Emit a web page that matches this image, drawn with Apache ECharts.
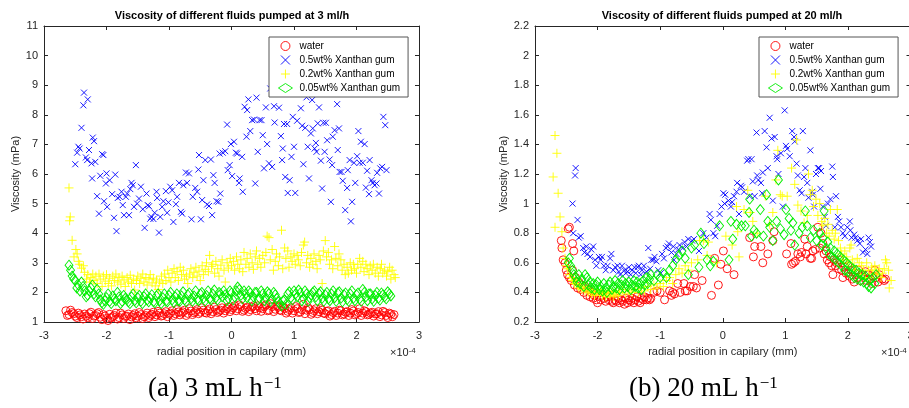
<!DOCTYPE html>
<html><head><meta charset="utf-8">
<script src="https://cdn.jsdelivr.net/npm/echarts@6/dist/echarts.min.js"></script>
<style>html,body{margin:0;padding:0;background:#fff}#c{width:909px;height:408px}</style>
</head><body><div id="c"></div>
<script>
// x values in units of 1e-4 mm, viscosity in mPa
const seriesNames = ['water', '0.5wt% Xanthan gum', '0.2wt% Xanthan gum', '0.05wt% Xanthan gum'];

const leftWater = [[-2.65,1.38],[-2.60,1.25],[-2.55,1.32],[-2.50,1.20],[-2.45,1.30],[-2.40,1.18],[-2.35,1.27],[-2.30,1.15],[-2.25,1.33],[-2.20,1.20],[-2.15,1.28],[-2.10,1.16],[-2.05,1.25],[-2.00,1.12],[-1.95,1.26],[-1.90,1.18],[-1.85,1.30],[-1.80,1.15],[-1.75,1.24],[-1.70,1.19],[-1.65,1.27],[-1.60,1.17],[-1.55,1.28],[-1.50,1.20],[-1.45,1.25],[-1.40,1.18],[-1.35,1.30],[-1.30,1.22],[-1.25,1.33],[-1.20,1.24],[-1.15,1.30],[-1.10,1.22],[-1.05,1.35],[-1.00,1.27],[-0.95,1.38],[-0.90,1.28],[-0.85,1.34],[-0.80,1.30],[-0.75,1.40],[-0.70,1.29],[-0.65,1.37],[-0.60,1.31],[-0.55,1.42],[-0.50,1.33],[-0.45,1.40],[-0.40,1.30],[-0.35,1.44],[-0.30,1.35],[-0.25,1.42],[-0.20,1.36],[-0.15,1.48],[-0.10,1.38],[-0.05,1.50],[0.00,1.42],[0.05,1.55],[0.10,1.45],[0.15,1.52],[0.20,1.40],[0.25,1.50],[0.30,1.42],[0.35,1.55],[0.40,1.38],[0.45,1.48],[0.50,1.45],[0.55,1.58],[0.60,1.40],[0.65,1.52],[0.70,1.43],[0.75,1.50],[0.80,1.38],[0.85,1.46],[0.90,1.36],[0.95,1.48],[1.00,1.38],[1.05,1.45],[1.10,1.34],[1.15,1.60],[1.20,1.40],[1.25,1.42],[1.30,1.32],[1.35,1.45],[1.40,1.35],[1.45,1.40],[1.50,1.28],[1.55,1.38],[1.60,1.25],[1.65,1.36],[1.70,1.30],[1.75,1.38],[1.80,1.27],[1.85,1.35],[1.90,1.30],[1.95,1.37],[2.00,1.28],[2.05,1.45],[2.10,1.30],[2.15,1.35],[2.20,1.26],[2.25,1.33],[2.30,1.27],[2.35,1.35],[2.40,1.24],[2.45,1.32],[2.50,1.15],[2.55,1.27],[2.60,1.25],
[-2.625,1.22],[-2.575,1.40],[-2.525,1.28],[-2.475,1.15],[-2.425,1.24],[-2.375,1.10],[-2.325,1.20],[-2.275,1.28],[-2.225,1.12],[-2.175,1.22],[-2.125,1.32],[-2.075,1.08],[-2.025,1.20],[-1.975,1.05],[-1.925,1.14],[-1.875,1.22],[-1.825,1.10],[-1.775,1.30],[-1.725,1.12],[-1.675,1.20],[-1.625,1.08],[-1.575,1.22],[-1.525,1.14],[-1.475,1.32],[-1.425,1.12],[-1.375,1.22],[-1.325,1.15],[-1.275,1.26],[-1.225,1.18],[-1.175,1.36],[-1.125,1.20],[-1.075,1.28],[-1.025,1.18],[-0.975,1.30],[-0.925,1.22],[-0.875,1.42],[-0.825,1.24],[-0.775,1.34],[-0.725,1.22],[-0.675,1.45],[-0.625,1.25],[-0.575,1.35],[-0.525,1.28],[-0.475,1.48],[-0.425,1.32],[-0.375,1.38],[-0.325,1.28],[-0.275,1.50],[-0.225,1.32],[-0.175,1.40],[-0.125,1.30],[-0.075,1.45],[-0.025,1.35],[0.025,1.48],[0.075,1.38],[0.125,1.58],[0.175,1.36],[0.225,1.46],[0.275,1.35],[0.325,1.50],[0.375,1.45],[0.425,1.55],[0.475,1.36],[0.525,1.52],[0.575,1.38],[0.625,1.62],[0.675,1.35],[0.725,1.55],[0.775,1.40],[0.825,1.52],[0.875,1.30],[0.925,1.42],[0.975,1.30],[1.025,1.52],[1.075,1.32],[1.125,1.42],[1.175,1.28],[1.225,1.48],[1.275,1.26],[1.325,1.38],[1.375,1.28],[1.425,1.45],[1.475,1.30],[1.525,1.36],[1.575,1.20],[1.625,1.32],[1.675,1.22],[1.725,1.40],[1.775,1.24],[1.825,1.33],[1.875,1.22],[1.925,1.42],[1.975,1.24],[2.025,1.32],[2.075,1.22],[2.125,1.38],[2.175,1.24],[2.225,1.30],[2.275,1.20],[2.325,1.28],[2.375,1.18],[2.425,1.36],[2.475,1.22],[2.525,1.30],[2.575,1.18]];

const leftXg05 = [[-2.36,8.75],[-2.37,8.32],[-2.30,8.52],[-2.40,7.56],[-2.50,6.33],[-2.47,6.72],[-2.45,6.92],[-2.43,6.86],[-2.33,6.56],[-2.31,6.47],[-2.28,6.81],[-2.22,7.23],[-2.20,7.11],[-2.24,6.36],[-2.18,6.41],[-2.23,5.85],[-2.15,5.25],[-2.12,4.66],[-2.10,5.94],[-2.07,6.67],[-2.05,6.64],[-2.04,5.08],[-2.00,6.02],[-1.99,4.89],[-2.01,5.68],[-1.95,5.79],[-1.91,5.32],[-1.88,4.52],[-1.86,5.98],[-1.84,4.07],[-1.82,5.19],[-1.79,5.23],[-1.76,5.40],[-1.74,4.95],[-1.72,4.61],[-1.69,5.23],[-1.67,5.34],[-1.64,4.61],[-1.62,5.49],[-1.60,5.70],[-1.58,5.62],[-1.56,4.89],[-1.53,6.30],[-1.51,5.00],[-1.48,5.17],[-1.45,5.57],[-1.42,4.81],[-1.39,4.18],[-1.36,5.34],[-1.34,4.95],[-1.32,4.91],[-1.30,4.49],[-1.28,4.55],[-1.25,4.48],[-1.23,4.69],[-1.20,5.40],[-1.19,5.19],[-1.16,4.02],[-1.14,4.55],[-1.11,4.89],[-1.09,5.08],[-1.05,5.42],[-1.03,4.69],[-1.01,5.04],[-0.98,5.57],[-0.95,5.45],[-0.93,4.38],[-0.89,4.98],[-0.87,5.23],[-0.84,5.70],[-0.81,4.72],[-0.79,4.66],[-0.77,5.62],[-0.73,6.05],[-0.71,5.70],[-0.68,6.02],[-0.64,4.47],[-0.62,5.23],[-0.58,5.53],[-0.55,5.40],[-0.53,6.15],[-0.52,6.64],[-0.49,4.47],[-0.47,5.12],[-0.45,5.79],[-0.42,6.47],[-0.39,4.97],[-0.36,4.92],[-0.33,6.49],[-0.31,4.61],[-0.29,5.96],[-0.27,5.70],[-0.24,5.08],[-0.21,5.06],[-0.19,6.69],[-0.18,5.34],[-0.14,6.72],[-0.10,6.77],[-0.07,7.67],[-0.06,6.13],[-0.03,6.30],[-0.01,7.01],[0.01,5.93],[0.04,7.09],[0.07,6.72],[0.09,6.69],[0.12,5.70],[0.13,5.85],[0.17,6.58],[0.18,5.40],[0.21,8.27],[0.24,7.26],[0.25,8.16],[0.27,8.52],[0.30,7.45],[0.33,7.82],[0.36,7.84],[0.38,5.68],[0.40,8.58],[0.42,6.75],[0.45,7.82],[0.48,7.82],[0.50,7.31],[0.52,6.19],[0.55,8.25],[0.57,7.01],[0.60,6.36],[0.62,8.89],[0.65,6.24],[0.68,8.29],[0.69,7.74],[0.76,8.24],[0.79,7.28],[0.81,6.47],[0.82,6.86],[0.84,7.69],[0.86,5.90],[0.89,7.69],[0.90,5.36],[0.93,5.79],[0.96,6.58],[0.98,7.93],[1.00,6.92],[1.02,5.36],[1.05,7.80],[1.08,8.84],[1.11,8.22],[1.13,7.63],[1.15,6.33],[1.18,7.56],[1.20,8.59],[1.22,6.92],[1.24,5.85],[1.27,7.37],[1.29,8.50],[1.30,7.54],[1.33,6.86],[1.35,7.05],[1.36,6.75],[1.38,7.71],[1.40,8.25],[1.43,6.45],[1.45,5.51],[1.47,7.73],[1.49,6.75],[1.51,7.73],[1.53,7.14],[1.57,6.49],[1.59,5.06],[1.61,6.30],[1.62,7.26],[1.65,7.48],[1.69,8.36],[1.70,6.81],[1.72,7.54],[1.73,6.07],[1.76,6.07],[1.78,5.77],[1.82,4.78],[1.85,5.53],[1.86,6.13],[1.89,6.47],[1.91,4.40],[1.93,5.06],[1.96,6.38],[1.98,5.70],[2.01,6.60],[2.03,7.45],[2.05,6.38],[2.07,7.09],[2.10,6.38],[2.13,7.01],[2.15,5.54],[2.17,6.11],[2.20,5.32],[2.21,6.47],[2.24,5.79],[2.26,5.70],[2.29,5.62],[2.32,5.68],[2.33,6.04],[2.36,5.34],[2.38,6.19],[2.41,6.24],[2.43,7.93],[2.46,7.65],[2.48,6.13]];

const leftXg02 = [[-2.60,5.53],[-2.58,4.55],[-2.59,4.42],[-2.55,3.76],[-2.52,3.20],[-2.49,3.45],[-2.47,3.30],[-2.45,3.05],[-2.43,2.95],[-2.40,2.82],[-2.37,2.90],[-2.35,2.68],[-2.32,2.45],[-2.30,2.60],[-2.27,2.35],[-2.25,2.50],[-2.22,2.62],[-2.20,2.40],[-2.17,2.55],[-2.15,2.30],[-2.12,2.62],[-2.10,2.45],[-2.07,2.20],[-2.05,2.55],[-2.02,2.38],[-2.00,2.60],[-1.97,2.30],[-1.95,2.48],[-1.92,2.22],[-1.90,2.55],[-1.87,2.40],[-1.85,2.62],[-1.82,2.35],[-1.80,2.50],[-1.77,2.28],[-1.75,2.55],[-1.72,2.42],[-1.70,2.20],[-1.67,2.50],[-1.65,2.35],[-1.62,2.58],[-1.60,2.30],[-1.57,2.45],[-1.55,2.08],[-1.52,2.40],[-1.50,2.55],[-1.47,2.30],[-1.45,2.48],[-1.42,2.62],[-1.40,2.35],[-1.37,2.50],[-1.35,2.25],[-1.32,2.45],[-1.30,2.60],[-1.27,2.32],[-1.25,2.48],[-1.22,2.22],[-1.20,2.42],[-1.17,2.10],[-1.15,2.35],[-1.12,2.55],[-1.10,2.30],[-1.07,2.62],[-1.05,2.40],[-1.02,2.75],[-1.00,2.50],[-0.97,2.35],[-0.95,2.65],[-0.92,2.80],[-0.90,2.50],[-0.87,2.70],[-0.85,2.40],[-0.82,2.85],[-0.80,2.60],[-0.77,2.75],[-0.75,2.45],[-0.72,2.55],[-0.70,2.30],[-0.67,2.62],[-0.65,2.80],[-0.62,2.50],[-0.60,2.68],[-0.57,2.85],[-0.55,2.55],[-0.52,2.72],[-0.50,2.40],[-0.47,2.90],[-0.45,2.60],[-0.42,2.78],[-0.40,3.00],[-0.37,2.70],[-0.35,3.25],[-0.32,2.88],[-0.30,2.95],[-0.27,2.65],[-0.25,3.05],[-0.22,2.80],[-0.20,2.55],[-0.17,2.92],[-0.15,3.10],[-0.12,2.75],[-0.10,2.35],[-0.07,3.00],[-0.05,2.82],[-0.02,3.15],[0.00,2.90],[0.03,3.05],[0.05,2.75],[0.08,3.20],[0.10,2.95],[0.13,2.80],[0.15,3.10],[0.18,2.70],[0.20,3.35],[0.23,2.95],[0.25,3.15],[0.28,2.85],[0.30,3.30],[0.33,3.00],[0.35,2.78],[0.38,3.20],[0.40,3.40],[0.42,2.95],[0.45,3.15],[0.47,2.85],[0.50,3.25],[0.53,3.00],[0.55,3.35],[0.57,3.90],[0.60,3.85],[0.62,3.10],[0.65,3.45],[0.67,2.75],[0.70,3.05],[0.72,3.30],[0.75,2.90],[0.77,3.20],[0.80,4.10],[0.82,2.80],[0.85,3.50],[0.87,3.15],[0.90,3.40],[0.92,2.85],[0.95,3.20],[0.97,3.05],[1.00,3.30],[1.02,2.95],[1.05,3.25],[1.07,3.10],[1.10,2.90],[1.12,3.35],[1.15,3.60],[1.17,3.70],[1.20,3.00],[1.22,3.25],[1.25,2.85],[1.27,3.15],[1.30,2.95],[1.32,3.30],[1.35,3.05],[1.37,2.80],[1.40,3.25],[1.42,3.10],[1.45,2.30],[1.47,3.40],[1.50,3.75],[1.52,3.20],[1.55,3.35],[1.57,2.95],[1.60,3.10],[1.62,2.80],[1.65,3.55],[1.67,3.15],[1.70,2.90],[1.72,3.30],[1.75,3.10],[1.77,2.75],[1.80,2.95],[1.82,2.60],[1.85,2.85],[1.87,2.65],[1.90,3.00],[1.92,2.75],[1.95,2.95],[1.97,2.80],[2.00,2.65],[2.02,2.95],[2.05,3.15],[2.07,2.85],[2.10,3.05],[2.12,2.70],[2.15,2.95],[2.17,2.80],[2.20,2.60],[2.22,2.90],[2.25,2.75],[2.27,2.95],[2.30,2.65],[2.33,2.85],[2.35,2.55],[2.38,2.80],[2.40,2.95],[2.42,2.65],[2.45,2.75],[2.48,2.55],[2.50,2.70],[2.53,2.85],[2.55,2.45],[2.57,2.75],[2.60,2.60],[2.62,2.50]];

const leftXg005 = [[-2.60,2.92],[-2.55,2.55],[-2.50,2.40],[-2.45,2.25],[-2.40,2.35],[-2.35,2.05],[-2.30,1.90],[-2.25,2.15],[-2.20,1.95],[-2.15,2.10],[-2.10,1.75],[-2.05,1.60],[-2.00,1.82],[-1.95,1.70],[-1.90,1.88],[-1.85,1.72],[-1.80,1.85],[-1.75,1.70],[-1.70,1.80],[-1.65,1.68],[-1.60,1.85],[-1.55,1.72],[-1.50,1.82],[-1.45,1.70],[-1.40,1.86],[-1.35,1.74],[-1.30,1.80],[-1.25,1.68],[-1.20,1.88],[-1.15,1.72],[-1.10,1.82],[-1.05,1.70],[-1.00,1.90],[-0.95,1.75],[-0.90,1.85],[-0.85,1.72],[-0.80,1.88],[-0.75,1.75],[-0.70,1.92],[-0.65,1.78],[-0.60,1.88],[-0.55,1.76],[-0.50,1.95],[-0.45,1.80],[-0.40,1.90],[-0.35,1.78],[-0.30,1.95],[-0.25,1.82],[-0.20,2.00],[-0.15,1.85],[-0.10,1.92],[-0.05,1.80],[0.00,1.98],[0.05,1.85],[0.10,2.18],[0.15,1.90],[0.20,2.05],[0.25,1.82],[0.30,1.98],[0.35,1.85],[0.40,2.00],[0.45,1.80],[0.50,1.95],[0.55,1.82],[0.60,1.96],[0.65,1.78],[0.70,1.92],[0.75,1.68],[0.80,1.55],[0.85,1.75],[0.90,1.95],[0.95,1.82],[1.00,2.05],[1.05,1.85],[1.10,1.98],[1.15,1.80],[1.20,1.95],[1.25,1.82],[1.30,2.00],[1.35,1.85],[1.40,1.96],[1.45,1.80],[1.50,1.92],[1.55,1.78],[1.60,1.95],[1.65,1.82],[1.70,1.98],[1.75,1.80],[1.80,1.92],[1.85,1.76],[1.90,1.95],[1.95,1.80],[2.00,1.92],[2.05,1.78],[2.10,2.10],[2.15,1.85],[2.20,1.95],[2.25,1.78],[2.30,1.90],[2.35,1.80],[2.40,1.98],[2.45,1.85],[2.50,2.02],[2.55,1.88],
[-2.575,2.75],[-2.525,2.45],[-2.475,2.15],[-2.425,2.05],[-2.375,2.20],[-2.325,1.85],[-2.275,2.05],[-2.225,2.25],[-2.175,1.85],[-2.125,1.95],[-2.075,1.65],[-2.025,1.72],[-1.975,1.95],[-1.925,1.62],[-1.875,1.78],[-1.825,2.00],[-1.775,1.62],[-1.725,1.90],[-1.675,1.75],[-1.625,1.62],[-1.575,1.95],[-1.525,1.65],[-1.475,1.90],[-1.425,1.62],[-1.375,1.95],[-1.325,1.68],[-1.275,1.92],[-1.225,1.65],[-1.175,1.95],[-1.125,1.62],[-1.075,1.95],[-1.025,1.68],[-0.975,2.00],[-0.925,1.66],[-0.875,1.95],[-0.825,1.70],[-0.775,2.02],[-0.725,1.68],[-0.675,1.98],[-0.625,1.70],[-0.575,2.05],[-0.525,1.72],[-0.475,2.00],[-0.425,1.70],[-0.375,2.05],[-0.325,1.75],[-0.275,2.08],[-0.225,1.74],[-0.175,1.95],[-0.125,2.05],[-0.075,1.72],[-0.025,2.05],[0.025,1.75],[0.075,2.05],[0.125,2.10],[0.175,1.78],[0.225,1.95],[0.275,2.05],[0.325,1.72],[0.375,2.00],[0.425,1.75],[0.475,2.05],[0.525,1.72],[0.575,2.02],[0.625,1.70],[0.675,2.00],[0.725,1.80],[0.775,1.62],[0.825,1.72],[0.875,1.60],[0.925,2.02],[0.975,1.75],[1.025,1.95],[1.075,2.08],[1.125,1.72],[1.175,2.05],[1.225,1.70],[1.275,1.92],[1.325,2.05],[1.375,1.72],[1.425,2.02],[1.475,1.70],[1.525,2.00],[1.575,1.72],[1.625,2.05],[1.675,1.70],[1.725,2.02],[1.775,1.68],[1.825,1.98],[1.875,1.70],[1.925,2.05],[1.975,1.72],[2.025,1.98],[2.075,1.70],[2.125,2.00],[2.175,1.72],[2.225,1.95],[2.275,1.70],[2.325,2.00],[2.375,1.74],[2.425,1.92],[2.475,1.78],[2.525,1.95]];

const rightWater = [[-2.58,0.75],[-2.57,0.70],[-2.55,0.62],[-2.52,0.60],[-2.47,0.83],[-2.45,0.84],[-2.40,0.73],[-2.38,0.68],[-2.50,0.55],[-2.48,0.52],[-2.45,0.50],[-2.42,0.48],[-2.40,0.55],[-2.37,0.45],[-2.35,0.50],[-2.32,0.43],[-2.30,0.47],[-2.27,0.42],[-2.25,0.45],[-2.22,0.40],[-2.20,0.44],[-2.17,0.38],[-2.15,0.42],[-2.12,0.37],[-2.10,0.40],[-2.07,0.36],[-2.05,0.38],[-2.02,0.35],[-2.00,0.33],[-1.97,0.37],[-1.95,0.35],[-1.92,0.38],[-1.90,0.36],[-1.87,0.34],[-1.85,0.37],[-1.82,0.35],[-1.80,0.38],[-1.77,0.34],[-1.75,0.33],[-1.72,0.35],[-1.70,0.34],[-1.67,0.36],[-1.65,0.33],[-1.62,0.35],[-1.60,0.34],[-1.57,0.32],[-1.55,0.36],[-1.52,0.33],[-1.50,0.35],[-1.47,0.34],[-1.45,0.36],[-1.42,0.33],[-1.40,0.35],[-1.37,0.37],[-1.35,0.34],[-1.32,0.33],[-1.30,0.36],[-1.27,0.35],[-1.25,0.37],[-1.22,0.35],[-1.20,0.36],[-1.17,0.35],[-1.15,0.36],[-1.10,0.40],[-1.05,0.41],[-1.00,0.40],[-0.93,0.35],[-0.85,0.41],[-0.82,0.38],[-0.80,0.40],[-0.77,0.39],[-0.72,0.46],[-0.68,0.40],[-0.62,0.46],[-0.60,0.41],[-0.57,0.41],[-0.52,0.44],[-0.47,0.44],[-0.45,0.52],[-0.42,0.43],[-0.33,0.48],[-0.18,0.38],[-0.13,0.63],[-0.07,0.45],[-0.03,0.59],[0.01,0.68],[0.07,0.56],[0.18,0.52],[0.43,0.77],[0.49,0.64],[0.51,0.71],[0.61,0.71],[0.64,0.60],[0.72,0.66],[0.80,0.75],[0.82,0.81],[1.02,0.66],[1.09,0.73],[1.10,0.59],[1.13,0.60],[1.16,0.61],[1.20,0.66],[1.24,0.64],[1.26,0.67],[1.31,0.76],[1.33,0.66],[1.35,0.71],[1.40,0.63],[1.42,0.63],[1.44,0.68],[1.48,0.69],[1.52,0.84],[1.55,0.70],[1.57,0.80],[1.60,0.73],[1.62,0.66],[1.65,0.68],[1.67,0.62],[1.70,0.60],[1.72,0.64],[1.74,0.58],[1.76,0.52],[1.78,0.62],[1.80,0.58],[1.82,0.60],[1.85,0.56],[1.87,0.62],[1.90,0.55],[1.92,0.50],[1.95,0.57],[1.97,0.53],[2.00,0.58],[2.02,0.51],[2.05,0.55],[2.07,0.49],[2.10,0.47],[2.12,0.53],[2.15,0.50],[2.17,0.55],[2.20,0.48],[2.22,0.52],[2.25,0.50],[2.28,0.54],[2.30,0.48],[2.33,0.52],[2.35,0.49],[2.38,0.46],[2.40,0.51],[2.43,0.55],[2.45,0.50],[2.48,0.47],[2.50,0.52],[2.55,0.49],[2.58,0.48],[2.60,0.49]];

const rightXg05 = [[-2.35,1.24],[-2.36,1.19],[-2.40,1.00],[-2.32,0.89],[-2.39,0.80],[-2.30,0.77],[-2.27,0.78],[-2.23,0.70],[-2.21,0.67],[-2.18,0.71],[-2.16,0.66],[-2.12,0.64],[-2.10,0.69],[-2.07,0.71],[-2.04,0.62],[-2.02,0.58],[-1.98,0.64],[-1.95,0.62],[-1.93,0.64],[-1.90,0.58],[-1.87,0.55],[-1.84,0.58],[-1.80,0.63],[-1.78,0.66],[-1.75,0.55],[-1.72,0.57],[-1.68,0.58],[-1.66,0.54],[-1.64,0.52],[-1.61,0.58],[-1.57,0.55],[-1.55,0.53],[-1.52,0.54],[-1.50,0.57],[-1.47,0.52],[-1.45,0.55],[-1.41,0.57],[-1.39,0.53],[-1.36,0.57],[-1.34,0.58],[-1.31,0.52],[-1.29,0.55],[-1.26,0.58],[-1.22,0.54],[-1.19,0.70],[-1.16,0.56],[-1.14,0.62],[-1.11,0.62],[-1.09,0.64],[-1.06,0.61],[-1.03,0.55],[-0.99,0.53],[-0.97,0.66],[-0.94,0.63],[-0.91,0.70],[-0.88,0.71],[-0.86,0.73],[-0.82,0.67],[-0.79,0.71],[-0.78,0.62],[-0.74,0.66],[-0.71,0.69],[-0.69,0.72],[-0.64,0.70],[-0.61,0.74],[-0.58,0.71],[-0.55,0.76],[-0.49,0.75],[-0.46,0.76],[-0.38,0.68],[-0.31,0.80],[-0.26,0.77],[-0.21,0.93],[-0.19,0.89],[-0.15,0.80],[-0.12,0.78],[-0.09,0.85],[-0.05,0.93],[-0.02,0.98],[0.01,1.07],[0.03,1.00],[0.04,1.06],[0.09,1.02],[0.13,0.98],[0.15,1.01],[0.18,1.05],[0.22,1.08],[0.23,1.14],[0.26,0.93],[0.29,1.12],[0.31,1.11],[0.34,1.08],[0.39,1.29],[0.41,1.30],[0.43,1.05],[0.46,1.30],[0.48,1.15],[0.51,1.05],[0.54,1.48],[0.55,1.19],[0.57,1.16],[0.61,1.14],[0.63,1.07],[0.64,1.21],[0.67,1.49],[0.70,1.38],[0.72,1.24],[0.75,1.58],[0.78,1.44],[0.80,1.02],[0.83,1.45],[0.86,1.32],[0.87,1.30],[0.89,1.20],[0.93,1.34],[0.96,0.98],[0.99,1.63],[1.01,1.39],[1.03,1.37],[1.07,1.32],[1.11,1.49],[1.14,1.45],[1.15,1.42],[1.18,1.27],[1.20,1.19],[1.23,1.09],[1.26,1.07],[1.28,1.49],[1.30,1.18],[1.32,1.24],[1.35,1.14],[1.37,1.04],[1.40,1.36],[1.43,1.08],[1.44,1.06],[1.46,0.98],[1.49,1.20],[1.52,1.24],[1.54,1.24],[1.56,1.10],[1.57,1.22],[1.60,0.98],[1.63,0.91],[1.65,0.85],[1.68,1.00],[1.72,1.03],[1.75,1.25],[1.76,1.18],[1.79,0.84],[1.81,1.05],[1.84,0.91],[1.86,0.88],[1.89,0.84],[1.92,0.80],[1.95,0.78],[1.99,0.84],[2.03,0.88],[2.04,0.82],[2.06,0.77],[2.10,0.79],[2.12,0.77],[2.15,0.75],[2.19,0.73],[2.21,0.76],[2.24,0.67],[2.28,0.69],[2.31,0.66],[2.33,0.77],[2.35,0.74],[2.37,0.71]];

const rightXg02 = [[-2.71,1.18],[-2.68,1.46],[-2.65,1.34],[-2.68,0.84],[-2.63,1.07],[-2.60,0.91],[-2.57,0.81],[-2.55,0.70],[-2.52,0.63],[-2.50,0.58],[-2.48,0.56],[-2.45,0.52],[-2.42,0.50],[-2.40,0.48],[-2.37,0.46],[-2.35,0.49],[-2.32,0.45],[-2.30,0.43],[-2.27,0.46],[-2.25,0.42],[-2.22,0.44],[-2.20,0.41],[-2.17,0.43],[-2.15,0.40],[-2.12,0.42],[-2.10,0.39],[-2.07,0.41],[-2.05,0.38],[-2.02,0.40],[-2.00,0.42],[-1.97,0.39],[-1.95,0.41],[-1.92,0.38],[-1.90,0.40],[-1.87,0.37],[-1.85,0.39],[-1.82,0.41],[-1.80,0.38],[-1.77,0.40],[-1.75,0.37],[-1.72,0.39],[-1.70,0.41],[-1.67,0.38],[-1.65,0.40],[-1.60,0.42],[-1.55,0.39],[-1.50,0.41],[-1.45,0.40],[-1.40,0.42],[-1.35,0.40],[-1.30,0.43],[-1.25,0.41],[-1.20,0.44],[-1.15,0.42],[-1.10,0.45],[-1.05,0.43],[-1.00,0.46],[-0.95,0.44],[-0.90,0.48],[-0.85,0.50],[-0.80,0.46],[-0.75,0.52],[-0.70,0.56],[-0.65,0.53],[-0.60,0.58],[-0.55,0.55],[-0.50,0.60],[-0.40,0.62],[-0.37,0.75],[-0.31,0.75],[-0.25,0.65],[-0.23,0.74],[-0.10,0.60],[0.05,0.78],[0.15,0.72],[0.22,0.98],[0.24,0.81],[0.26,0.64],[0.34,0.96],[0.40,1.09],[0.44,0.94],[0.48,0.88],[0.55,0.80],[0.68,1.05],[0.75,0.86],[0.80,0.94],[0.85,1.16],[0.88,1.36],[0.92,1.06],[0.95,1.05],[1.03,1.05],[1.10,1.24],[1.15,1.13],[1.18,1.43],[1.20,0.99],[1.25,0.95],[1.30,0.87],[1.35,0.92],[1.37,1.20],[1.40,1.06],[1.43,1.09],[1.45,0.98],[1.49,1.03],[1.52,0.92],[1.55,1.00],[1.58,0.88],[1.60,0.85],[1.63,0.90],[1.66,0.80],[1.68,0.86],[1.70,0.78],[1.72,0.96],[1.75,0.82],[1.78,0.76],[1.80,0.80],[1.83,0.96],[1.85,0.75],[1.88,0.70],[1.90,0.66],[1.92,0.62],[1.95,0.68],[1.98,0.64],[2.00,0.60],[2.03,0.70],[2.05,0.72],[2.07,0.62],[2.10,0.58],[2.12,0.55],[2.15,0.63],[2.18,0.60],[2.20,0.52],[2.22,0.58],[2.25,0.55],[2.28,0.50],[2.30,0.60],[2.33,0.55],[2.35,0.50],[2.38,0.57],[2.40,0.53],[2.43,0.58],[2.45,0.55],[2.48,0.52],[2.50,0.56],[2.53,0.50],[2.55,0.53],[2.58,0.56],[2.60,0.62],[2.62,0.60],[2.65,0.55],[2.66,0.43],[2.69,0.48]];

const rightXg005 = [[-2.45,0.63],[-2.47,0.60],[-2.43,0.58],[-2.40,0.55],[-2.38,0.52],[-2.35,0.50],[-2.33,0.47],[-2.30,0.52],[-2.28,0.46],[-2.25,0.49],[-2.22,0.44],[-2.20,0.52],[-2.17,0.50],[-2.15,0.45],[-2.12,0.47],[-2.10,0.43],[-2.07,0.46],[-2.05,0.42],[-2.02,0.45],[-2.00,0.47],[-1.97,0.42],[-1.95,0.44],[-1.92,0.41],[-1.90,0.46],[-1.87,0.43],[-1.85,0.40],[-1.82,0.45],[-1.80,0.47],[-1.77,0.42],[-1.75,0.44],[-1.72,0.48],[-1.70,0.43],[-1.67,0.46],[-1.65,0.42],[-1.62,0.45],[-1.60,0.48],[-1.57,0.43],[-1.55,0.46],[-1.52,0.44],[-1.50,0.47],[-1.47,0.42],[-1.45,0.45],[-1.42,0.48],[-1.40,0.44],[-1.37,0.47],[-1.35,0.43],[-1.32,0.46],[-1.30,0.42],[-1.27,0.48],[-1.25,0.45],[-1.22,0.50],[-1.20,0.46],[-1.17,0.49],[-1.15,0.52],[-1.10,0.48],[-1.05,0.52],[-1.00,0.50],[-0.95,0.53],[-0.90,0.50],[-0.85,0.55],[-0.80,0.58],[-0.75,0.62],[-0.70,0.65],[-0.65,0.68],[-0.60,0.63],[-0.55,0.52],[-0.50,0.70],[-0.45,0.72],[-0.38,0.57],[-0.35,0.80],[-0.30,0.73],[-0.25,0.62],[-0.20,0.58],[-0.15,0.61],[-0.05,0.85],[0.10,0.62],[0.13,0.88],[0.16,0.76],[0.22,0.86],[0.30,0.85],[0.36,0.85],[0.42,0.94],[0.43,1.03],[0.46,0.78],[0.50,0.82],[0.54,0.80],[0.60,0.96],[0.65,0.78],[0.70,1.06],[0.72,0.88],[0.75,0.84],[0.80,0.75],[0.86,0.88],[0.89,1.16],[0.92,0.83],[0.98,0.79],[1.01,0.96],[1.06,0.90],[1.09,0.82],[1.12,0.87],[1.15,0.72],[1.22,0.80],[1.27,0.84],[1.32,0.95],[1.35,0.85],[1.40,0.77],[1.45,0.82],[1.50,0.75],[1.55,0.80],[1.58,0.72],[1.60,0.77],[1.62,0.95],[1.65,0.70],[1.68,0.74],[1.70,0.66],[1.72,0.70],[1.75,0.64],[1.78,0.68],[1.80,0.62],[1.83,0.66],[1.85,0.60],[1.88,0.64],[1.90,0.58],[1.93,0.62],[1.95,0.55],[1.98,0.60],[2.00,0.54],[2.03,0.58],[2.05,0.52],[2.08,0.56],[2.10,0.50],[2.13,0.55],[2.15,0.49],[2.18,0.53],[2.20,0.48],[2.23,0.52],[2.25,0.47],[2.28,0.51],[2.30,0.46],[2.33,0.44],[2.35,0.48],[2.37,0.43],[2.40,0.50],[2.43,0.46],[2.45,0.52]];

const FONT = '"Liberation Sans", Arial, sans-serif';
const SERIF = '"Liberation Serif", "DejaVu Serif", serif';
const AX = '#262626';

const styles = [
  {symbol: 'circle', size: 8, color: '#ff0000'},
  {symbol: 'path://M0,0L10,10M0,10L10,0', size: 6, color: '#0000ff'},
  {symbol: 'path://M5,0L5,10M0,5L10,5', size: 9, color: '#ffff00'},
  {symbol: 'diamond', size: [8, 10], color: '#00ee00'}
];

function mkSeries(name, data, idx, gi) {
  const s = styles[idx];
  return {
    type: 'scatter', name: name, data: data,
    xAxisIndex: gi * 2, yAxisIndex: gi * 2,
    symbol: s.symbol, symbolSize: s.size,
    itemStyle: {color: 'rgba(0,0,0,0)', borderColor: s.color, borderWidth: 0.9, opacity: 1},
    emphasis: {disabled: true}, silent: true, animation: false
  };
}

const grids = [
  {left: 44, top: 26, width: 375, height: 296, outerBoundsMode: 'none', containLabel: false},
  {left: 535, top: 26, width: 375.5, height: 296, outerBoundsMode: 'none', containLabel: false}
];
const yRanges = [{min: 1, max: 11, interval: 1}, {min: 0.2, max: 2.2, interval: 0.2}];

const xAxes = [], yAxes = [];
[0, 1].forEach(gi => {
  xAxes.push({
    type: 'value', gridIndex: gi, min: -3, max: 3, interval: 1, position: 'bottom',
    name: 'radial position in capilary (mm)', nameLocation: 'middle', nameGap: 24,
    nameTextStyle: {fontFamily: FONT, fontSize: 11, color: AX},
    axisLine: {show: true, onZero: false, lineStyle: {color: AX, width: 1}},
    axisTick: {show: true, inside: true, length: 4, lineStyle: {color: AX}},
    axisLabel: {fontFamily: FONT, fontSize: 11, color: AX, margin: 8},
    splitLine: {show: false}
  });
  xAxes.push({
    type: 'value', gridIndex: gi, min: -3, max: 3, interval: 1, position: 'top',
    axisLine: {show: true, onZero: false, lineStyle: {color: AX, width: 1}},
    axisTick: {show: true, inside: true, length: 4, lineStyle: {color: AX}},
    axisLabel: {show: false}, splitLine: {show: false}
  });
  const yr = yRanges[gi];
  yAxes.push({
    type: 'value', gridIndex: gi, min: yr.min, max: yr.max, interval: yr.interval, position: 'left',
    name: 'Viscosity (mPa)', nameLocation: 'middle', nameGap: 23, nameRotate: 90,
    nameTextStyle: {fontFamily: FONT, fontSize: 11, color: AX},
    axisLine: {show: true, onZero: false, lineStyle: {color: AX, width: 1}},
    axisTick: {show: true, inside: true, length: 4, lineStyle: {color: AX}},
    axisLabel: {fontFamily: FONT, fontSize: 11, color: AX, margin: 6},
    splitLine: {show: false}
  });
  yAxes.push({
    type: 'value', gridIndex: gi, min: yr.min, max: yr.max, interval: yr.interval, position: 'right',
    axisLine: {show: true, onZero: false, lineStyle: {color: AX, width: 1}},
    axisTick: {show: true, inside: true, length: 4, lineStyle: {color: AX}},
    axisLabel: {show: false}, splitLine: {show: false}
  });
});

const series = [
  mkSeries(seriesNames[0], leftWater, 0, 0),
  mkSeries(seriesNames[1], leftXg05, 1, 0),
  mkSeries(seriesNames[2], leftXg02, 2, 0),
  mkSeries(seriesNames[3], leftXg005, 3, 0),
  mkSeries(seriesNames[0], rightWater, 0, 1),
  mkSeries(seriesNames[1], rightXg05, 1, 1),
  mkSeries(seriesNames[2], rightXg02, 2, 1),
  mkSeries(seriesNames[3], rightXg005, 3, 1)
];

function mkLegend(left) {
  return {
    orient: 'vertical', left: left, top: 37, padding: [4, 8, 4, 9],
    itemWidth: 14, itemHeight: 9, itemGap: 4,
    backgroundColor: '#fff', borderColor: '#555', borderWidth: 1, borderRadius: 0,
    selectedMode: false,
    itemStyle: {borderWidth: 0.9},
    textStyle: {fontFamily: FONT, fontSize: 10, color: '#000', padding: [0, 0, 0, 2]},
    data: seriesNames
  };
}

const graphics = [
  {type: 'text', x: 232, y: 16, style: {text: 'Viscosity of different fluids pumped at 3 ml/h', font: 'bold 11px ' + FONT, fill: '#000', textAlign: 'center', textVerticalAlign: 'middle'}},
  {type: 'text', x: 722, y: 16, style: {text: 'Viscosity of different fluids pumped at 20 ml/h', font: 'bold 11px ' + FONT, fill: '#000', textAlign: 'center', textVerticalAlign: 'middle'}},
  {type: 'text', x: 390, y: 347, style: {text: '{a|×10}{b|-4}', fill: AX, rich: {a: {fontFamily: FONT, fontSize: 11, fill: AX, verticalAlign: 'bottom'}, b: {fontFamily: FONT, fontSize: 8, fill: AX, verticalAlign: 'top'}}}},
  {type: 'text', x: 881, y: 347, style: {text: '{a|×10}{b|-4}', fill: AX, rich: {a: {fontFamily: FONT, fontSize: 11, fill: AX, verticalAlign: 'bottom'}, b: {fontFamily: FONT, fontSize: 8, fill: AX, verticalAlign: 'top'}}}},
  {type: 'text', x: 148, y: 375, style: {text: '{a|(a) 3 mL h}{b|−1}', fill: '#000', rich: {a: {fontFamily: SERIF, fontSize: 27, fill: '#000', verticalAlign: 'bottom'}, b: {fontFamily: SERIF, fontSize: 17, fill: '#000', verticalAlign: 'top', padding: [0, 0, 0, 1]}}}},
  {type: 'text', x: 629, y: 375, style: {text: '{a|(b) 20 mL h}{b|−1}', fill: '#000', rich: {a: {fontFamily: SERIF, fontSize: 27, fill: '#000', verticalAlign: 'bottom'}, b: {fontFamily: SERIF, fontSize: 17, fill: '#000', verticalAlign: 'top', padding: [0, 0, 0, 1]}}}}
];

const chart = echarts.init(document.getElementById('c'), null, {renderer: 'canvas'});
chart.setOption({
  animation: false,
  backgroundColor: '#fff',
  grid: grids,
  xAxis: xAxes,
  yAxis: yAxes,
  legend: [mkLegend(269), mkLegend(759)],
  series: series,
  graphic: graphics
});
</script></body></html>
